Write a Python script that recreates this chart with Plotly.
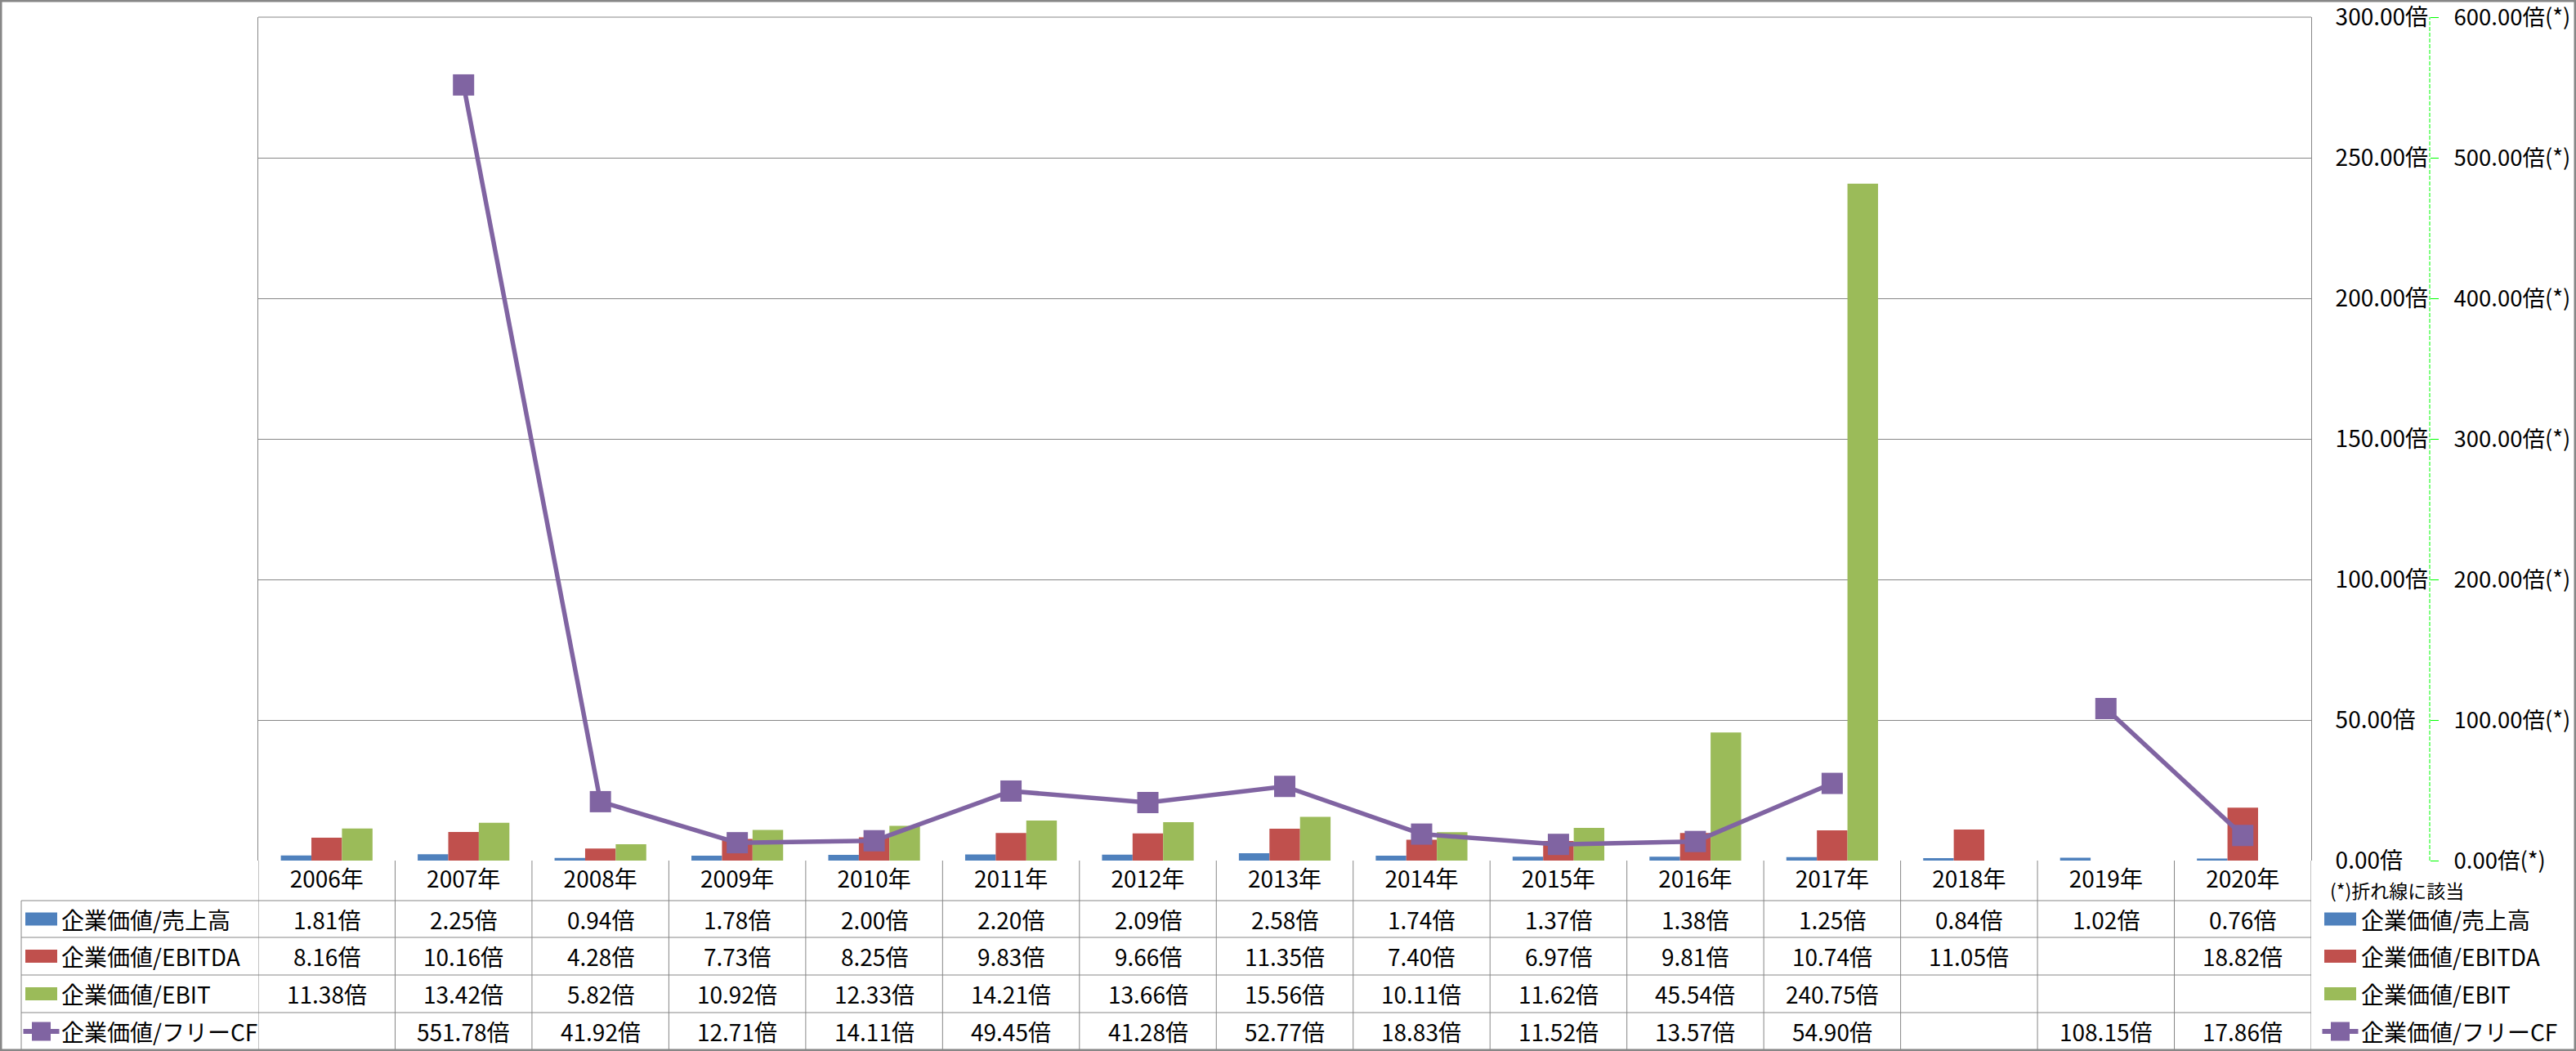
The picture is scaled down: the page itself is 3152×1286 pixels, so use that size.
import plotly.graph_objects as go

# ---------------- data ----------------
years = ["2006年", "2007年", "2008年", "2009年", "2010年", "2011年", "2012年", "2013年",
         "2014年", "2015年", "2016年", "2017年", "2018年", "2019年", "2020年"]
series_names = ["企業価値/売上高", "企業価値/EBITDA", "企業価値/EBIT", "企業価値/フリーCF"]
ev_sales = [1.81, 2.25, 0.94, 1.78, 2.00, 2.20, 2.09, 2.58, 1.74, 1.37, 1.38, 1.25, 0.84, 1.02, 0.76]
ev_ebitda = [8.16, 10.16, 4.28, 7.73, 8.25, 9.83, 9.66, 11.35, 7.40, 6.97, 9.81, 10.74, 11.05, None, 18.82]
ev_ebit = [11.38, 13.42, 5.82, 10.92, 12.33, 14.21, 13.66, 15.56, 10.11, 11.62, 45.54, 240.75, None, None, None]
ev_fcf = [None, 551.78, 41.92, 12.71, 14.11, 49.45, 41.28, 52.77, 18.83, 11.52, 13.57, 54.90, None, 108.15, 17.86]
primary_ticks = [0, 50, 100, 150, 200, 250, 300]
secondary_ticks = [0, 100, 200, 300, 400, 500, 600]
unit = "倍"
secondary_suffix = "倍(*)"
note_text = "(*)折れ線に該当"

# ---------------- styles ----------------
colors = ["#4F81BD", "#C0504D", "#9BBB59", "#8064A2"]
FONT = "Noto Sans CJK JP"
FS = 28        # table values / years
LFS = 28       # legend labels
AFS = 28       # primary axis labels
AFS2 = 27.5    # secondary axis labels
GRID = "#878787"
W, H = 3152, 1286
L, R, T, B = 316, 100, 21, 233
PW = W - L - R
PH = H - T - B
PLOT_RIGHT = 2828
AX2_X = 2973


def px(X):
    return (X - L) / PW


def py(Y):
    return (H - B - Y) / PH


bar_series = [ev_sales, ev_ebitda, ev_ebit]
fig = go.Figure()
for name, vals, c in zip(series_names[:3], bar_series, colors[:3]):
    fig.add_trace(go.Bar(x=years, y=vals, name=name, marker=dict(color=c, line=dict(width=0)),
                         showlegend=False))
fig.add_trace(go.Scatter(x=years, y=ev_fcf, name=series_names[3], yaxis="y2",
                         mode="lines+markers", connectgaps=False, showlegend=False,
                         line=dict(color=colors[3], width=5.5),
                         marker=dict(symbol="square", size=26, color=colors[3],
                                     line=dict(width=0))))

shapes = []
annotations = []

# table grid
row_edges = [1102, 1147, 1193, 1239, 1285]
row_centers = [(row_edges[i] + row_edges[i + 1]) / 2 for i in range(4)]
for i in range(len(years) + 1):
    shapes.append(dict(type="line", xref="x", yref="paper", x0=i - 0.5, x1=i - 0.5,
                       y0=py(1053), y1=py(1285), line=dict(color=GRID, width=1)))
shapes.append(dict(type="line", xref="paper", yref="paper", x0=px(26), x1=px(26),
                   y0=py(1102), y1=py(1285), line=dict(color=GRID, width=1)))
for Y in row_edges:
    shapes.append(dict(type="line", xref="paper", yref="paper", x0=px(26), x1=px(PLOT_RIGHT),
                       y0=py(Y), y1=py(Y), line=dict(color=GRID, width=1)))
# top gridline of plot area
shapes.append(dict(type="line", xref="paper", yref="paper", x0=0, x1=px(PLOT_RIGHT),
                   y0=1, y1=1, line=dict(color=GRID, width=1)))

# table values
table_rows = [ev_sales, ev_ebitda, ev_ebit, ev_fcf]
for r, vals in enumerate(table_rows):
    for yr, v in zip(years, vals):
        if v is None:
            continue
        annotations.append(dict(x=yr, xref="x", y=py(row_centers[r]), yref="paper",
                                text=f"{v:.2f}{unit}", showarrow=False, xanchor="center",
                                yanchor="middle", font=dict(family=FONT, size=FS, color="black")))


# legend keys (left in table, right beside table)
def legend_key(cx, cy, idx):
    if idx < 3:
        shapes.append(dict(type="rect", xref="paper", yref="paper",
                           x0=px(cx - 19.5), x1=px(cx + 19.5), y0=py(cy - 8), y1=py(cy + 8),
                           fillcolor=colors[idx], line=dict(width=0)))
    else:
        shapes.append(dict(type="line", xref="paper", yref="paper",
                           x0=px(cx - 22), x1=px(cx + 22), y0=py(cy), y1=py(cy),
                           line=dict(color=colors[idx], width=6)))
        shapes.append(dict(type="rect", xref="paper", yref="paper",
                           x0=px(cx - 11.5), x1=px(cx + 11.5), y0=py(cy - 11.5), y1=py(cy + 11.5),
                           fillcolor=colors[idx], line=dict(width=0)))


for i, name in enumerate(series_names):
    cy = row_centers[i]
    legend_key(50.5, cy, i)
    annotations.append(dict(x=px(73), xref="paper", y=py(cy), yref="paper", text=name,
                            showarrow=False, xanchor="left", yanchor="middle",
                            font=dict(family=FONT, size=LFS, color="black")))
    legend_key(2863.5, cy, i)
    annotations.append(dict(x=px(2887), xref="paper", y=py(cy), yref="paper", text=name,
                            showarrow=False, xanchor="left", yanchor="middle",
                            font=dict(family=FONT, size=LFS, color="black")))

annotations.append(dict(x=px(2849), xref="paper", y=py(1089), yref="paper", text=note_text,
                        showarrow=False, xanchor="left", yanchor="middle",
                        font=dict(family=FONT, size=23, color="black")))

# secondary axis dashed line
shapes.append(dict(type="line", xref="paper", yref="paper", x0=px(AX2_X), x1=px(AX2_X),
                   y0=0, y1=1, line=dict(color="#00FF00", width=1, dash="5px,2px")))

# outer border
shapes.append(dict(type="rect", xref="paper", yref="paper", x0=px(1), x1=px(W - 1),
                   y0=py(H - 1), y1=py(1), line=dict(color=GRID, width=3),
                   fillcolor="rgba(0,0,0,0)"))

primary_text = [f"{v:.2f}{unit}" for v in primary_ticks]
secondary_text = [f"{v:.2f}{secondary_suffix}" for v in secondary_ticks]

fig.update_layout(
    width=W, height=H,
    margin=dict(l=L, r=R, t=T, b=B, autoexpand=False),
    paper_bgcolor="white", plot_bgcolor="white",
    barmode="group", bargap=0.33, bargroupgap=0,
    font=dict(family=FONT, size=FS, color="black"),
    showlegend=False,
    xaxis=dict(type="category", domain=[0, px(PLOT_RIGHT)], range=[-0.5, len(years) - 0.5],
               showgrid=False, showline=False, ticks="", ticklabelstandoff=4,
               tickfont=dict(family=FONT, size=FS, color="black"), zeroline=False),
    yaxis=dict(range=[0, 300], tickmode="array", tickvals=primary_ticks, ticktext=primary_text,
               side="right", anchor="x", showgrid=True, gridcolor=GRID, gridwidth=1,
               showline=True, linecolor=GRID, linewidth=1, mirror=True, ticks="",
               ticklabelstandoff=23, ticklabeloverflow="allow", zeroline=False,
               tickfont=dict(family=FONT, size=AFS, color="black")),
    yaxis2=dict(range=[0, 600], tickmode="array", tickvals=secondary_ticks,
                ticktext=secondary_text, overlaying="y", side="right", anchor="free",
                position=px(AX2_X), showgrid=False, showline=False, ticks="outside",
                ticklen=10, tickcolor="#00FF00", tickwidth=1, ticklabelstandoff=13,
                ticklabeloverflow="allow", zeroline=False,
                tickfont=dict(family=FONT, size=AFS2, color="black")),
    shapes=shapes,
    annotations=annotations,
)

fig.write_html("out.html",
               post_script="document.body.style.margin='0';document.body.style.overflow='hidden';")
